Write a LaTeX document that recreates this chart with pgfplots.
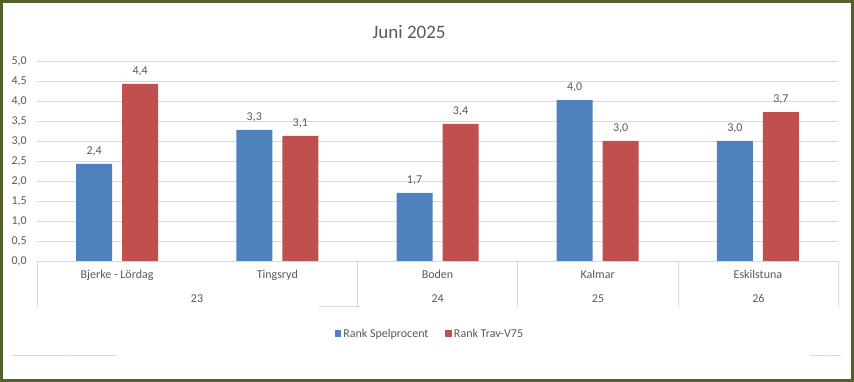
\documentclass[border=0pt]{standalone}
\usepackage{pgfplots}
\pgfplotsset{compat=1.18}
\usepackage{fontspec}
\setmainfont{Carlito}
\definecolor{bblue}{RGB}{79,129,189}
\definecolor{bred}{RGB}{192,80,77}
\definecolor{gridg}{RGB}{217,217,217}
\definecolor{txt}{RGB}{89,89,89}
\definecolor{framec}{RGB}{79,98,40}
\begin{document}
\begin{tikzpicture}[x=1pt,y=1pt]
\useasboundingbox (0,0) rectangle (854,382);
\fill[white] (0,0) rectangle (854,382);
\begin{axis}[
  at={(37pt,121pt)}, anchor=south west,
  scale only axis, width=801pt, height=200pt,
  xmin=-0.5, xmax=4.5, ymin=0, ymax=5,
  ytick={0,0.5,1,1.5,2,2.5,3,3.5,4,4.5,5},
  xtick={0,1,2,3,4},
  xticklabels={Bjerke - Lördag, Tingsryd, Boden, Kalmar, Eskilstuna},
  major tick length=0pt,
  axis line style={draw=none},
  ymajorgrids, major grid style={draw=gridg, line width=0.8pt},
  /pgf/number format/.cd, assume math mode=true, use comma, fixed, fixed zerofill, precision=1,
  /pgfplots/.cd,
  ticklabel style={font=\fontsize{12}{14}\selectfont, text=txt},
  yticklabel style={anchor=base east, inner sep=0pt, xshift=-10pt, yshift=-4pt},
  xticklabel style={anchor=base, inner sep=0pt, yshift=-18pt},
  ybar, bar width=36pt,
  point meta=y,
  nodes near coords={\pgfmathprintnumber{\pgfplotspointmeta}},
  every node near coord/.append style={font=\fontsize{12}{14}\selectfont, text=txt, anchor=base, inner sep=0pt, yshift=9.7pt},
  legend columns=2,
  legend style={at={(axis description cs:0.4906,-0.365)}, anchor=center, draw=none, fill=none,
    font=\fontsize{12}{14}\selectfont, text=txt,
    /tikz/every even column/.append style={column sep=15pt}},
  legend image code/.code={\path[#1,draw=none] (0pt,-3pt) rectangle (6.5pt,3.5pt);},
]
\addplot[fill=bblue, draw=none, bar shift=-23pt] coordinates {(0,2.43) (1,3.28) (2,1.70) (3,4.02) (4,3.00)};
\addplot[fill=bred, draw=none, bar shift=23pt] coordinates {(0,4.43) (1,3.13) (2,3.43) (3,3.00) (4,3.72)};
\legend{Rank Spelprocent, Rank Trav-V75}
\end{axis}
% multi-level category separators
\draw[gridg, line width=0.8pt] (37,121) -- (37,75);
\draw[gridg, line width=0.8pt] (357.6,121) -- (357.6,76);
\draw[gridg, line width=0.8pt] (517.7,121) -- (517.7,74.5);
\draw[gridg, line width=0.8pt] (678.3,121) -- (678.3,74.5);
\draw[gridg, line width=0.8pt] (838.5,121) -- (838.5,74.5);
\draw[gridg, line width=0.8pt] (318.7,76) -- (360,76);
\draw[gridg, line width=0.8pt] (13,27) -- (71,27);
\draw[gridg, line width=0.8pt] (72,27) -- (117,27);
\draw[gridg, line width=0.8pt] (810,27) -- (825.5,27);
\draw[gridg, line width=0.8pt] (826.5,27) -- (841,27);
% second level labels
\begin{scope}[every node/.style={font=\fontsize{12}{14}\selectfont, text=txt, anchor=base, inner sep=0pt}]
\node at (197,79.2) {23};
\node at (437.6,79.2) {24};
\node at (598,79.2) {25};
\node at (758.4,79.2) {26};
\end{scope}
% title
\node[font=\fontsize{19}{22}\selectfont, text=txt, anchor=base, inner sep=0pt] at (409,343.3) {Juni 2025};
% frame
\draw[framec, line width=3.2pt] (1.6,1.6) rectangle (852.4,380.4);
\end{tikzpicture}
\end{document}
